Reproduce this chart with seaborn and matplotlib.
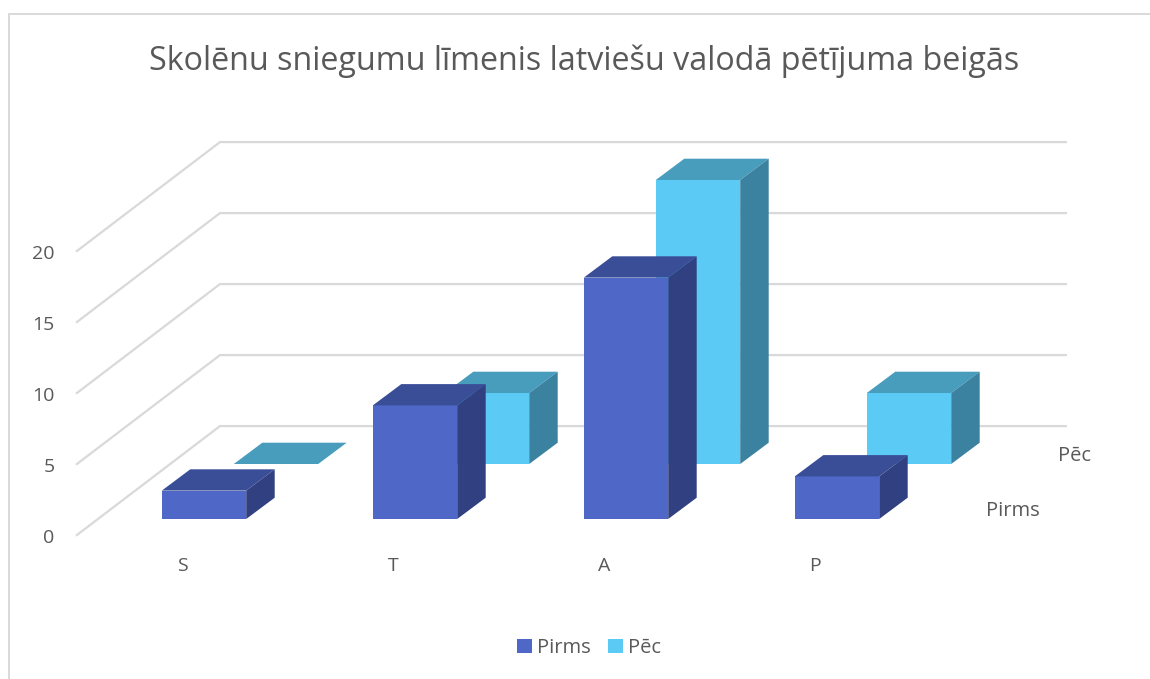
import matplotlib
matplotlib.use('Agg')
import matplotlib.pyplot as plt
import matplotlib.transforms as mtrans
from matplotlib.lines import Line2D
from matplotlib.patches import Patch, Polygon
import pandas as pd
import seaborn as sns

# Data
levels = ['S', 'T', 'A', 'P']
pirms = [2, 8, 17, 3]
pec = [0, 5, 20, 5]
value_ticks = [0, 5, 10, 15, 20]
title = 'Skolēnu sniegumu līmenis latviešu valodā pētījuma beigās'

W, H = 1150, 679
GRID = '#D9D9D9'
TEXT = '#595959'
PIRMS_COLS = ('#4F68C8', '#3A4E98', '#304080')  # front, top, side
PEC_COLS = ('#5BCBF5', '#489DBD', '#3B82A0')

sns.set_theme(style='white')
plt.rcParams['font.family'] = ['Open Sans', 'DejaVu Sans']

fig = plt.figure(figsize=(W / 100, H / 100), dpi=100, facecolor='white')


def px_axes(left, right, top, bottom, z):
    # axes placed with image pixel coordinates
    ax = fig.add_axes([left / W, 1 - bottom / H, (right - left) / W, (bottom - top) / H], zorder=z)
    ax.patch.set_alpha(0)
    sns.despine(ax=ax, left=True, bottom=True)
    return ax


# Walls: the gridlines go from the front edge back and then across
ax_wall = px_axes(76, 1067, 251.7, 535.7, 1)
ax_wall.set_xlim(76, 1067)
ax_wall.set_ylim(0, 20)
rise = 7.72
for v in value_ticks:
    ax_wall.plot([76, 220, 1067], [v, v + rise, v + rise], color=GRID, lw=1.6, clip_on=False,
                 solid_joinstyle='miter', solid_capstyle='butt')
ax_wall.set_xticks([])
ax_wall.set_yticks(value_ticks)
ax_wall.tick_params(axis='y', length=0, pad=15.5, labelsize=14, labelcolor=TEXT)


def draw_series(ax, values, cols):
    df = pd.DataFrame({'level': levels, 'value': values})
    sns.barplot(data=df, x='level', y='value', color=cols[0], saturation=1, width=0.4, linewidth=0, ax=ax)
    ax.set_ylim(0, 20)
    ax.set_xlabel('')
    ax.set_ylabel('')
    # fake the depth of the 3d bars
    dx = 28.5 / 211
    dy = 21.3 / 71 * 5
    for bar in list(ax.patches):
        x0, x1 = bar.get_x(), bar.get_x() + bar.get_width()
        y1 = bar.get_height()
        ax.add_patch(Polygon([(x0, y1), (x1, y1), (x1 + dx, y1 + dy), (x0 + dx, y1 + dy)],
                             fc=cols[1], ec='none', clip_on=False))
        if y1 > 0:
            ax.add_patch(Polygon([(x1, 0), (x1 + dx, dy), (x1 + dx, y1 + dy), (x1, y1)],
                                 fc=cols[2], ec='none', clip_on=False))


# Back row first, it is shifted 72 px right and 55 px up
ax_back = px_axes(170.5, 1014.5, 180, 464, 2)
draw_series(ax_back, pec, PEC_COLS)
ax_back.set_xticks([])
ax_back.set_yticks([])

ax_front = px_axes(98.5, 942.5, 235, 519, 3)
draw_series(ax_front, pirms, PIRMS_COLS)
ax_front.set_yticks([])
ax_front.set_xticks(range(len(levels)))
ax_front.set_xticklabels(levels)
ax_front.tick_params(axis='x', length=0, pad=27.5, labelsize=14, labelcolor=TEXT)
shift = mtrans.ScaledTranslation(-22 / 100, 0, fig.dpi_scale_trans)
for lab in ax_front.get_xticklabels():
    lab.set_transform(lab.get_transform() + shift)

# Series names on the depth axis
fig.text(1013 / W, 1 - 511 / H, 'Pirms', ha='center', va='center', fontsize=14.5, color=TEXT)
fig.text(1075 / W, 1 - 456 / H, 'Pēc', ha='center', va='center', fontsize=14.5, color=TEXT)

fig.text(584.5 / W, 1 - 61 / H, title, ha='center', va='center', fontsize=23.25, color=TEXT)

handles = [Patch(fc=PIRMS_COLS[0], ec='none', label='Pirms'), Patch(fc=PEC_COLS[0], ec='none', label='Pēc')]
fig.legend(handles=handles, loc='center', bbox_to_anchor=(589 / W, 1 - 648 / H), ncol=2, frameon=False,
           fontsize=14.5, labelcolor=TEXT, handlelength=0.7, handleheight=0.7, handletextpad=0.25,
           columnspacing=0.9, borderpad=0)

# Chart frame, only top and left are in the picture
fig.add_artist(Line2D([8.5 / W, 8.5 / W, 1], [0, 1 - 13.5 / H, 1 - 13.5 / H], color=GRID, lw=1.4,
                      solid_joinstyle='miter'))

fig.savefig('out.png', dpi=100)
